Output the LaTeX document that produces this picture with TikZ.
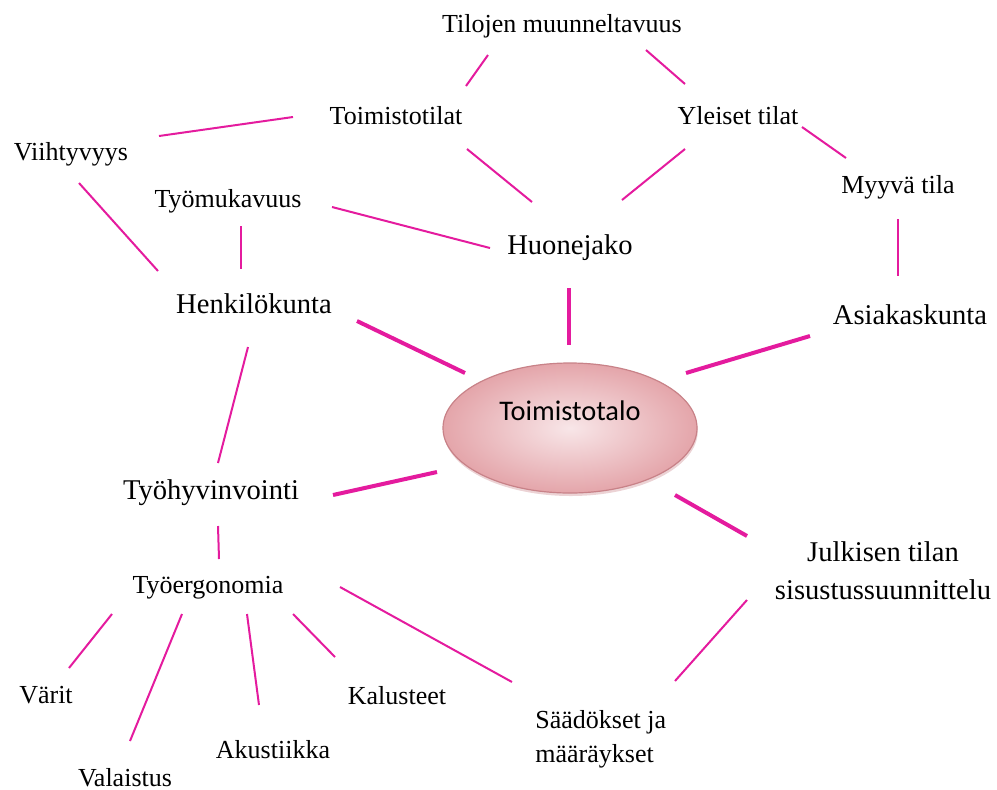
\documentclass[tikz,border=0pt]{standalone}
\usepackage{fontspec}
\setmainfont{Liberation Serif}
\newfontfamily\calfont{Carlito}
\usetikzlibrary{shapes.geometric,shadows}

\definecolor{linkpink}{RGB}{228,27,158}
\definecolor{taloin}{RGB}{248,230,232}
\definecolor{taloout}{RGB}{228,165,170}
\definecolor{taloedge}{RGB}{200,130,136}

\begin{document}
\begin{tikzpicture}[x=0.5pt,y=-0.5pt,
    word/.style={inner sep=0pt,anchor=base,font=\fontsize{13}{17}\selectfont},
    bigword/.style={word,font=\fontsize{14.3}{19}\selectfont},
    talo/.style={ellipse,shade,inner color=taloin,outer color=taloout,
      draw=taloedge,line width=0.6pt,inner sep=0pt,
      minimum width=127pt,minimum height=65pt,
      text height=10pt,text depth=18pt,
      font=\calfont\fontsize{14.2}{17}\selectfont,
      drop shadow={shadow xshift=0.4pt,shadow yshift=-1.5pt,opacity=0.35,fill=taloedge}},
    link/.style={draw=linkpink,line width=1pt},
    thicklink/.style={link,line width=2pt}]
    \useasboundingbox (0,0) rectangle (997,789);
    % centre
    \node[talo] (talo) at (570,428) {Toimistotalo};
    % labels, placed on their (last) baselines
    \node[word] (tilojen) at (562,32) {Tilojen muunneltavuus};
    \node[word] (toimtilat) at (396,124) {Toimistotilat};
    \node[word] (yleiset) at (738,124) {Yleiset tilat};
    \node[word] (viiht) at (71,160) {Viihtyvyys};
    \node[word] (tyomuk) at (228,207) {Työmukavuus};
    \node[word] (myyva) at (898,193) {Myyvä tila};
    \node[bigword] (huone) at (570,254) {Huonejako};
    \node[bigword] (henk) at (254,313) {Henkilökunta};
    \node[bigword] (asiakas) at (910,324) {Asiakaskunta};
    \node[bigword] (tyohyv) at (211,499) {Työhyvinvointi};
    \node[bigword,align=center] (julkisen) at (883,599)
      {Julkisen tilan\\sisustussuunnittelu};
    \node[word] (tyoerg) at (208,593) {Työergonomia};
    \node[word] (varit) at (46,703) {Värit};
    \node[word] (kalust) at (397,704) {Kalusteet};
    \node[word] (akust) at (273,758) {Akustiikka};
    \node[word] (valaistus) at (125,786) {Valaistus};
    \node[word,align=left,anchor=base west] (saadokset) at (535,762)
      {Säädökset ja\\määräykset};
    % connectors stop short of the labels
    \foreach \a/\ax/\ay/\b/\bx/\by in {
        tilojen.base/-74/23/toimtilat.base/70/-38,
        tilojen.base/84/18/yleiset.base/-53/-40,
        toimtilat.base/-103/-7/viiht.base/88/-24,
        toimtilat.base/71/25/huone.base/-38/-52,
        yleiset.base/-53/25/huone.base/52/-54,
        yleiset.base/64/3/myyva.base/-52/-35,
        myyva.base/0/26/asiakas.base/-12/-48,
        viiht.base/8/23/henk.base/-96/-42,
        tyomuk.base/13/19/henk.base/-13/-44,
        tyomuk.base/104/0/huone.base/-80/-6,
        henk.base/-6/34/tyohyv.base/7/-36,
        tyohyv.base/7/27/tyoerg.base/11/-34,
        tyoerg.base/-96/21/varit.base/23/-35,
        tyoerg.base/-26/21/valaistus.base/5/-45,
        tyoerg.base/39/21/akust.base/-14/-53,
        tyoerg.base/85/21/kalust.base/-62/-47,
        tyoerg.base/132/-6/saadokset.base west/-23/-80,
        julkisen.base/-136/1/saadokset.base west/140/-81}
      \draw[link] ([shift={(\ax,\ay)}]\a) -- ([shift={(\bx,\by)}]\b);
    \foreach \a/\ax/\ay/\b/\bx/\by in {
        huone.base/-1/34/talo.center/-1/-83,
        henk.base/103/8/talo.center/-105/-55,
        asiakas.base/-100/12/talo.center/116/-55,
        tyohyv.base/122/-4/talo.center/-133/44,
        talo.center/105/67/julkisen.base/-136/-63}
      \draw[thicklink] ([shift={(\ax,\ay)}]\a) -- ([shift={(\bx,\by)}]\b);
\end{tikzpicture}
\end{document}
